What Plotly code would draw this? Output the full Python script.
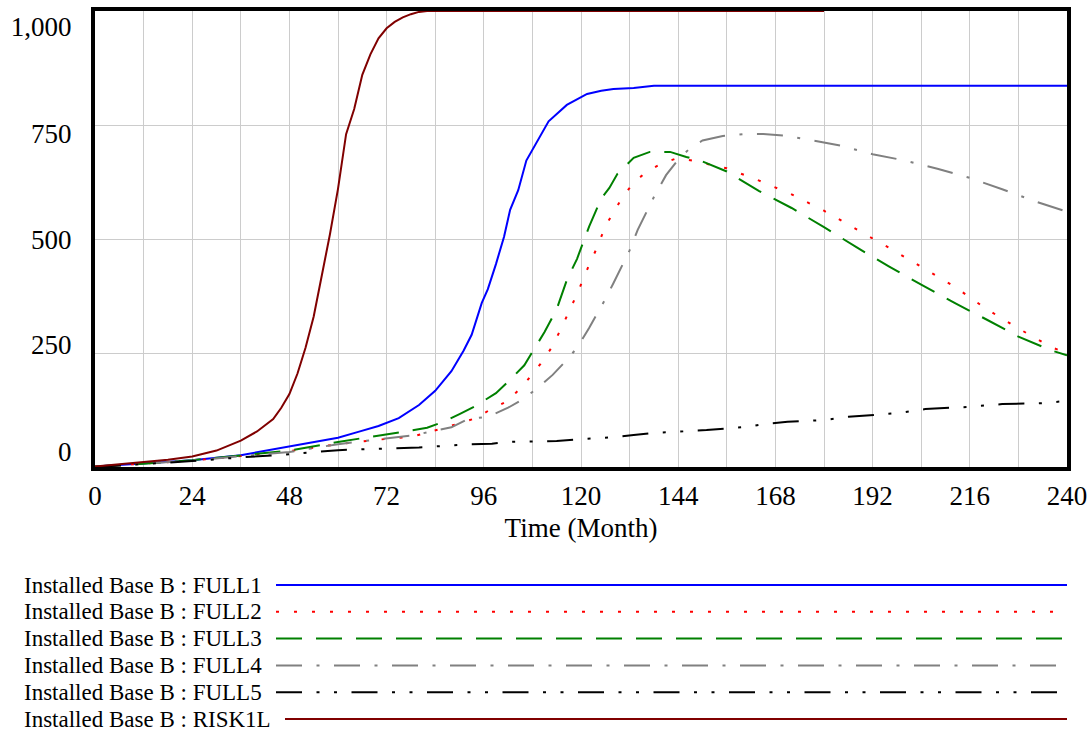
import plotly.graph_objects as go

# ---------------- data ----------------
X_TITLE = "Time (Month)"
X_TICKS = [0, 24, 48, 72, 96, 120, 144, 168, 192, 216, 240]
Y_GRID = [0, 250, 500, 750, 1000]
Y_TICK_TEXT = ["0", "250", "500", "750", "1,000"]
# Vensim draws its value labels evenly inset from the grid lines
Y_LABEL_AT = [33, 268, 498, 732, 965]

SERIES_NAMES = [
    "Installed Base B : FULL1",
    "Installed Base B : FULL2",
    "Installed Base B : FULL3",
    "Installed Base B : FULL4",
    "Installed Base B : FULL5",
    "Installed Base B : RISK1L",
]

full1_t = [0, 12, 24, 36, 46, 50, 55, 60, 65, 70, 75, 80, 84, 88, 91, 93, 95.5, 97, 99,
           101, 102.5, 104.5, 106.5, 109, 112, 116.5, 121.5, 125, 128, 133, 138, 240]
full1_v = [1, 8, 15, 26, 42, 48, 55, 64, 77, 90, 107, 136, 167, 210, 255, 290, 360, 390, 445,
           505, 564, 607, 672, 711, 758, 794, 818, 825, 829, 831, 836, 836]

full2_t = [0, 12, 24, 36, 48, 60, 70, 78, 86, 94, 98, 102, 106, 110, 113, 116, 119, 122, 124,
           126, 128, 130, 133, 136, 140, 144, 148, 156, 164, 172, 180, 188, 196, 204, 212,
           220, 228, 236, 240]
full2_v = [1, 7, 14, 24, 35, 50, 60, 66, 85, 107, 128, 145, 182, 226, 265, 321, 379, 443, 482,
           528, 559, 588, 624, 646, 666, 678, 671, 655, 628, 598, 562, 522, 481, 439, 397,
           347, 304, 263, 250]

full3_t = [0, 12, 24, 36, 48, 60, 70, 76, 82, 86, 90, 94, 99, 102, 106, 108, 111, 114, 116.5,
           119, 122, 125, 127, 129, 133, 137, 142, 146, 150, 156, 164, 172, 180, 188, 196,
           204, 212, 220, 228, 236, 240]
full3_v = [1, 7, 15, 26, 36, 55, 68, 77, 86, 99, 116, 134, 162, 187, 223, 252, 296, 346, 410,
           456, 527, 589, 612, 643, 678, 691, 691, 680, 670, 648, 605, 568, 526, 482, 440,
           400, 361, 324, 286, 256, 245]

full4_t = [0, 12, 24, 36, 48, 60, 70, 79, 84, 88, 92, 97, 102, 105, 109, 113, 116, 119, 122,
           124, 126, 128, 130, 132, 134, 136, 138, 141, 144, 147, 150, 155, 160, 165, 170,
           176, 184, 192, 200, 208, 216, 224, 232, 240]
full4_v = [1, 7, 14, 24, 33, 50, 60, 70, 80, 87, 105, 110, 130, 145, 171, 202, 230, 261, 305,
           335, 368, 403, 440, 475, 520, 555, 592, 640, 674, 700, 716, 726, 730, 730, 727,
           718, 705, 686, 672, 654, 634, 609, 583, 560]

full5_t = [0, 12, 24, 36, 48, 60, 75, 80, 93, 98, 102, 114, 120, 129, 133, 138, 143, 151, 161,
           165, 171, 180, 186, 198, 205, 216, 224, 234, 240]
full5_v = [0, 6, 13, 21, 28, 37, 42, 43, 50, 51, 55, 57, 61, 66, 70, 75, 77, 81, 88,
           94, 99, 103, 110, 118, 127, 132, 138, 140, 145]

risk1l_t = [0, 6, 12, 18, 24, 30, 36, 40, 44, 46, 48, 50, 52, 54, 56, 58, 60, 62, 64, 66, 68,
            70, 72, 74, 76, 78, 80, 82, 180]
risk1l_v = [1, 6, 11, 16, 23, 36, 58, 78, 105, 130, 160, 205, 262, 330, 420, 510, 610, 730,
            785, 860, 905, 940, 962, 976, 986, 993, 998, 1000, 1000]

SERIES_T = [full1_t, full2_t, full3_t, full4_t, full5_t, risk1l_t]
SERIES_V = [full1_v, full2_v, full3_v, full4_v, full5_v, risk1l_v]

# ---------------- styles ----------------
COLORS = ["#0000ff", "#ff0000", "#008000", "#808080", "#000000", "#800000"]
DASHES = [
    "solid",
    "3px,15px",
    "26px,14px",
    "26px,14.5px,3px,14.5px",
    "26px,14.5px,3px,14.5px,3px,14.5px",
    "solid",
]
FONT = "Liberation Serif, Times New Roman, serif"

W, H = 1092, 732
PL, PR, PT, PB = 95, 1067, 11, 467  # plot area pixel box


def px_x(p):
    return (p - PL) / (PR - PL)


def px_y(p):
    return (PB - p) / (PB - PT)


fig = go.Figure()
for name, t, v, c, d in zip(SERIES_NAMES, SERIES_T, SERIES_V, COLORS, DASHES):
    fig.add_trace(go.Scatter(x=t, y=v, mode="lines", name=name, showlegend=False,
                             line=dict(color=c, width=2, dash=d)))

GRID = "#cccccc"
fig.update_layout(
    width=W, height=H,
    margin=dict(l=PL, r=W - PR, t=PT, b=H - PB, autoexpand=False),
    paper_bgcolor="white", plot_bgcolor="white",
    font=dict(family=FONT, size=27, color="black"),
    xaxis=dict(range=[0, 240], tickvals=X_TICKS, ticks="", showgrid=True,
               gridcolor=GRID, gridwidth=1, zeroline=False,
               minor=dict(dtick=12, tick0=0, showgrid=True, gridcolor=GRID, gridwidth=1),
               showline=True, mirror=True, linewidth=4, linecolor="black",
               title=dict(text=X_TITLE, font=dict(size=27), standoff=9),
               tickfont=dict(size=27), ticklabelstandoff=2),
    yaxis=dict(range=[0, 1000], tickvals=Y_LABEL_AT, ticktext=Y_TICK_TEXT, ticks="",
               showgrid=False, zeroline=False,
               minor=dict(tickvals=Y_GRID, showgrid=True, gridcolor=GRID, gridwidth=1,
                          ticks=""),
               showline=True, mirror=True, linewidth=4, linecolor="black",
               tickfont=dict(size=27), ticklabelstandoff=14),
)

# legend drawn Vensim-style: label on the left, sample line on the right
row0, row_step = 585, 26.8
shapes, annos = [], []
for i, (name, c, d) in enumerate(zip(SERIES_NAMES, COLORS, DASHES)):
    yy = px_y(row0 + i * row_step)
    x_start = 285 if name.endswith("RISK1L") else 276
    shapes.append(dict(type="line", xref="paper", yref="paper",
                       x0=px_x(x_start), x1=px_x(1067), y0=yy, y1=yy,
                       line=dict(color=c, width=2, dash=d)))
    annos.append(dict(text=name, xref="paper", yref="paper", x=px_x(22), y=yy,
                      xanchor="left", yanchor="middle", showarrow=False,
                      font=dict(family=FONT, size=23, color="black")))
fig.update_layout(shapes=shapes, annotations=annos)

fig.write_html("out.html", config={"displayModeBar": False},
               post_script="document.body.style.margin='0';document.body.style.overflow='hidden';")
